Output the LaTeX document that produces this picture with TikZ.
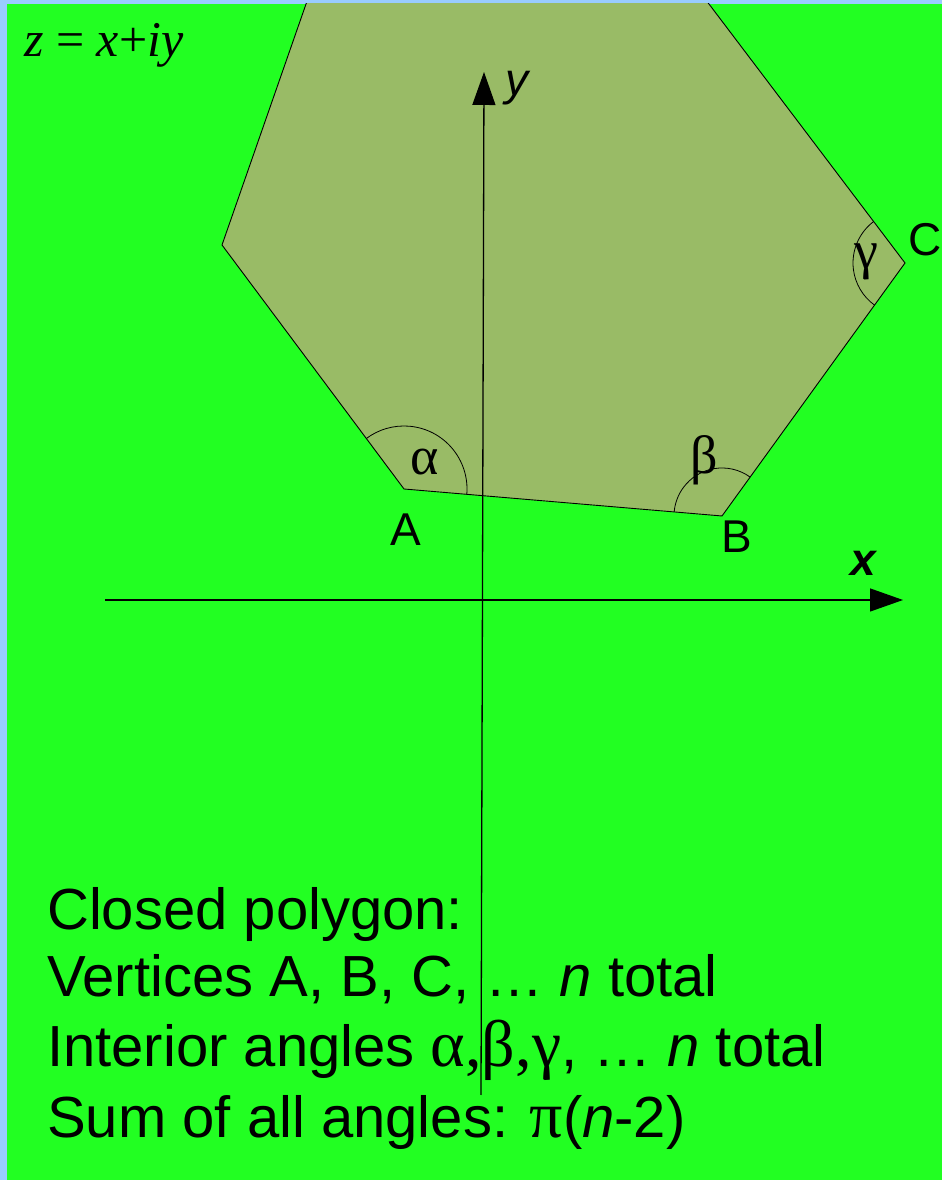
\documentclass[tikz,border=0pt]{standalone}
\usepackage{fontspec}
\setmainfont{Liberation Sans}
\newfontfamily\seriffont{Liberation Serif}
\usetikzlibrary{arrows.meta}
\definecolor{bgblue}{RGB}{153,204,255}
\definecolor{bggreen}{RGB}{34,255,34}
\definecolor{polyfill}{RGB}{153,187,102}
\newcommand{\grk}[1]{{\seriffont\fontsize{66}{69}\selectfont #1}}
\tikzset{
  edge/.style={line width=0.9pt, black},
  axis/.style={line width=1.3pt, black, -{Triangle[length=33pt,width=23pt]}},
  anglearc/.style={line width=0.8pt, black},
  vlabel/.style={inner sep=0pt, font=\fontsize{46}{50}\selectfont},
  glabel/.style={inner sep=0pt, font=\seriffont\fontsize{54}{58}\selectfont},
  bodytext/.style={inner sep=0pt, anchor=base west, font=\fontsize{58}{69}\selectfont},
}
\begin{document}
\begin{tikzpicture}[x=1pt,y=1pt]
\useasboundingbox (0,0) rectangle (942,1180);
\fill[bgblue] (0,0) rectangle (942,1180);
\fill[bggreen] (7,0) rectangle (942,1176);
\coordinate (TL) at (314.4,1200);
\coordinate (L) at (222,935);
\coordinate (A) at (404,691);
\coordinate (B) at (722,664);
\coordinate (C) at (905,917);
\coordinate (TR) at (690.8,1200);
\begin{scope}
\clip (7,0) rectangle (942,1176);
\fill[polyfill] (TL) -- (L) -- (A) -- (B) -- (C) -- (TR) -- cycle;
\draw[edge] (TL) -- (L) -- (A) -- (B) -- (C) -- (TR);
\end{scope}
% angle arcs
\draw[anglearc] ([shift={(-4.85:63)}]A) arc[start angle=-4.85, end angle=126.7, radius=63];
\draw[anglearc] ([shift={(54.1:48)}]B) arc[start angle=54.1, end angle=175.15, radius=48];
\draw[anglearc] ([shift={(127.1:52)}]C) arc[start angle=127.1, end angle=234.1, radius=52];
% axes
\coordinate (xs) at (105,580);
\coordinate (xe) at (903,580);
\coordinate (ys) at (481,85);
\coordinate (ye) at (484,1108);
\draw[axis] (ys) -- (ye);
\draw[axis] (xs) -- (xe);
% labels
\node[vlabel] (lA) at (406,650) {A};
\node[vlabel] (lB) at (737,643) {B};
\node[vlabel] (lC) at (925,940) {C};
\node[vlabel] (lx) at (863,617) {\bfseries\itshape x};
\node[vlabel] (ly) at (517,1092) {\itshape y};
\node[glabel] (la) at (425,718) {α};
\node[glabel] (lb) at (704,720) {β};
\node[glabel] (lg) at (866,918) {γ};
\node[inner sep=0pt, anchor=base west, font=\seriffont\fontsize{50}{54}\selectfont] (zeq) at (24,1123) {\itshape z\upshape\ = \itshape x\upshape +\itshape iy};
% text block
\node[bodytext] (t1) at (47,250) {Closed polygon:};
\node[bodytext] (t2) at (47,183) {Vertices A, B, C, … \itshape n\upshape\ total};
\node[bodytext] (t3) at (47,113) {Interior angles \grk{α,β,γ}, … \itshape n\upshape\ total};
\node[bodytext] (t4) at (47,42) {Sum of all angles: \grk{π}(\itshape n\upshape -2)};
\end{tikzpicture}
\end{document}
